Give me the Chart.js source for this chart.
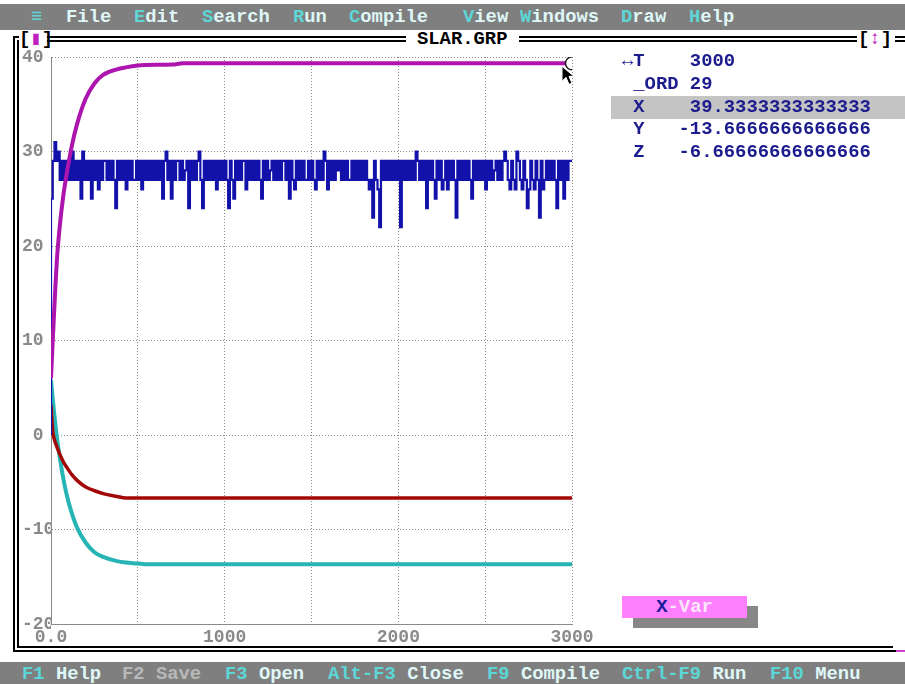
<!DOCTYPE html>
<html>
<head>
<meta charset="utf-8">
<title>SLAR.GRP</title>
<script src="https://cdn.jsdelivr.net/npm/chart.js@4.4.1/dist/chart.umd.min.js"></script>
<style>
  html, body { margin: 0; padding: 0; background: #fff; }
  #screen { position: relative; width: 905px; height: 684px; overflow: hidden; background: #fff;
            font-family: "Liberation Mono", "DejaVu Sans Mono", monospace; font-weight: bold; }
  .txt { position: absolute; white-space: pre; font-size: 18.85px; line-height: 22px; }
  .bar { position: absolute; left: 0; width: 905px; background: #7f7f7f; }
  .hk { color: #5cd6d6; }
  .mn { color: #dff7f7; }
  .off { color: #b9b9b9; }
  .hl { position: absolute; background: #000; }
  .gap { position: absolute; background: #fff; }
  #chartBox { position: absolute; left: 22px; top: 40px; width: 600px; height: 610px; }
  #panel { position: absolute; left: 622px; top: 50px; white-space: pre; font-size: 18.85px;
           line-height: 22.8px; color: #1c1c8e; }
  #sel { position: absolute; left: 611px; top: 96px; width: 294px; height: 23px; background: #c4c4c4; }
  #btnShadow { position: absolute; left: 633px; top: 606px; width: 125px; height: 22px; background: #878787; }
  #btn { position: absolute; left: 622px; top: 596px; width: 125px; height: 22px; background: #ff80ff;
         text-align: center; font-size: 18.85px; line-height: 22px; white-space: pre; }
</style>
</head>
<body>
<div id="screen">
  <!-- menu bar -->
  <div class="bar" style="top:4px;height:26px;"></div>
  <div class="txt" style="left:31px;top:6px;"><span class="hk">≡</span></div>
  <div class="txt" style="left:66px;top:6px;"><span class="mn">File</span></div>
  <div class="txt" style="left:134px;top:6px;"><span class="hk">E</span><span class="mn">dit</span></div>
  <div class="txt" style="left:202px;top:6px;"><span class="hk">S</span><span class="mn">earch</span></div>
  <div class="txt" style="left:293px;top:6px;"><span class="hk">R</span><span class="mn">un</span></div>
  <div class="txt" style="left:349px;top:6px;"><span class="hk">C</span><span class="mn">ompile</span></div>
  <div class="txt" style="left:463px;top:6px;"><span class="hk">V</span><span class="mn">iew</span></div>
  <div class="txt" style="left:520px;top:6px;"><span class="hk">W</span><span class="mn">indows</span></div>
  <div class="txt" style="left:621px;top:6px;"><span class="hk">D</span><span class="mn">raw</span></div>
  <div class="txt" style="left:689px;top:6px;"><span class="hk">H</span><span class="mn">elp</span></div>

  <!-- window frame (double lines) -->
  <div class="hl" style="left:13px;top:36px;width:892px;height:2px;"></div>
  <div class="hl" style="left:17px;top:40px;width:888px;height:2px;"></div>
  <div class="hl" style="left:13px;top:36px;width:2px;height:616px;"></div>
  <div class="hl" style="left:17px;top:40px;width:2px;height:608px;"></div>
  <div class="hl" style="left:17px;top:646px;width:876px;height:2px;"></div>
  <div class="hl" style="left:13px;top:650px;width:883px;height:2px;"></div>
  <div style="position:absolute;left:896px;top:650px;width:9px;height:2px;background:#d040d0;"></div>

  <div class="gap" style="left:19px;top:30px;width:28px;height:20px;"></div>
  <div class="txt" style="left:19px;top:28px;color:#000;">[<span style="color:#c020c0;">▮</span>]</div>
  <div class="gap" style="left:406px;top:30px;width:113px;height:20px;"></div>
  <div class="txt" style="left:417px;top:28px;color:#000;">SLAR.GRP</div>
  <div class="gap" style="left:857px;top:30px;width:38px;height:20px;"></div>
  <div class="txt" style="left:858px;top:28px;color:#000;">[<span style="color:#c020c0;">↕</span>]</div>

  <!-- chart -->
  <div id="chartBox"><canvas id="graph" width="600" height="610"></canvas></div>

  <!-- variable list -->
  <div id="sel"></div>
  <div id="panel">↔T    3000
 _ORD 29
 X    39.3333333333333
 Y   -13.6666666666666
 Z   -6.66666666666666</div>

  <!-- button -->
  <div id="btnShadow"></div>
  <div id="btn"><span style="color:#1a1a9a;">X</span><span style="color:#fbe6fb;">-Var</span></div>

  <!-- status bar -->
  <div class="bar" style="top:662px;height:22px;"></div>
  <div class="txt" style="left:22px;top:663px;"><span class="hk">F1</span><span class="mn"> Help</span></div>
  <div class="txt" style="left:122px;top:663px;"><span class="off">F2 Save</span></div>
  <div class="txt" style="left:225px;top:663px;"><span class="hk">F3</span><span class="mn"> Open</span></div>
  <div class="txt" style="left:328px;top:663px;"><span class="hk">Alt-F3</span><span class="mn"> Close</span></div>
  <div class="txt" style="left:487px;top:663px;"><span class="hk">F9</span><span class="mn"> Compile</span></div>
  <div class="txt" style="left:622px;top:663px;"><span class="hk">Ctrl-F9</span><span class="mn"> Run</span></div>
  <div class="txt" style="left:770px;top:663px;"><span class="hk">F10</span><span class="mn"> Menu</span></div>
</div>

<script>
// Time samples for the smooth state variables X, Y, Z
const curveT = [0, 10, 20, 35, 50, 70, 90, 120, 150, 200, 250, 300, 380, 430, 500, 540, 700, 760, 1000, 1500, 2000, 2500, 3000];
const xValues = [6.0, 10.0, 13.8, 18.8, 22.0, 25.2, 27.6, 30.6, 32.9, 35.6, 37.2, 38.1, 38.7, 38.9, 39.1, 39.15, 39.2, 39.33, 39.33, 39.33, 39.33, 39.33, 39.33];
const yValues = [5.8, 3.8, 2.0, -0.4, -2.3, -4.5, -6.3, -8.3, -9.8, -11.4, -12.4, -12.9, -13.35, -13.5, -13.6, -13.67, -13.67, -13.67, -13.67, -13.67, -13.67, -13.67, -13.67];
const zValues = [3.2, 0.4, -0.5, -1.3, -2.0, -2.8, -3.4, -4.2, -4.8, -5.5, -5.9, -6.2, -6.5, -6.67, -6.67, -6.67, -6.67, -6.67, -6.67, -6.67, -6.67, -6.67, -6.67];

// _ORD, recorded every ordStep time units from T = 0 to T = 3000
const ordStep = 10;
const ordValues = [
  0, 25, 29, 31, 29, 30, 27, 29, 27, 29, 27, 29, 27, 30, 27, 29, 27, 29, 25, 30,
  27, 29, 27, 29, 25, 29, 27, 29, 26, 29, 27, 29, 29, 27, 29, 27, 29, 27, 24, 29,
  27, 29, 27, 29, 26, 29, 27, 29, 27, 27, 29, 27, 29, 26, 29, 27, 29, 27, 29, 27,
  29, 27, 29, 27, 29, 25, 29, 30, 27, 29, 25, 29, 27, 29, 29, 27, 29, 27, 28, 29,
  24, 29, 27, 29, 27, 29, 30, 27, 24, 29, 27, 29, 27, 29, 27, 29, 26, 29, 27, 29,
  27, 29, 27, 24, 29, 27, 25, 29, 27, 29, 27, 29, 29, 26, 29, 27, 29, 27, 29, 27,
  29, 27, 25, 29, 27, 29, 27, 28, 29, 27, 29, 27, 29, 27, 29, 29, 27, 29, 25, 29,
  27, 26, 29, 27, 29, 27, 29, 27, 27, 29, 27, 29, 27, 26, 29, 27, 29, 27, 30, 29,
  26, 29, 27, 29, 27, 29, 28, 29, 27, 29, 27, 29, 27, 27, 29, 27, 29, 27, 29, 27,
  29, 27, 29, 27, 26, 27, 23, 29, 27, 26, 22, 29, 27, 29, 27, 29, 27, 29, 27, 29,
  27, 29, 22, 29, 27, 29, 27, 29, 27, 29, 27, 30, 29, 27, 29, 27, 29, 24, 29, 27,
  29, 27, 25, 29, 27, 29, 26, 27, 29, 26, 29, 27, 29, 27, 23, 29, 27, 29, 27, 29,
  27, 29, 27, 25, 29, 27, 29, 27, 29, 27, 29, 26, 29, 27, 29, 27, 28, 29, 27, 29,
  27, 29, 30, 29, 27, 26, 29, 27, 26, 30, 29, 27, 26, 29, 27, 24, 26, 29, 27, 26,
  29, 27, 23, 29, 26, 27, 29, 27, 29, 27, 29, 27, 24, 29, 27, 29, 25, 29, 27, 29,
  29
];

// Axis ticks
const xTickValues = [0, 1000, 2000, 3000];
const xTickText = ['0.0', '1000', '2000', '3000'];
const yTickValues = [-20, -10, 0, 10, 20, 30, 40];

const pairs = (ts, vs) => ts.map((t, i) => ({ x: t, y: vs[i] }));
const ordData = ordValues.map((v, i) => ({ x: i * ordStep, y: v }));

const axisGrey = '#8a8a8a';
const tickFont = { family: '"Liberation Mono", "DejaVu Sans Mono", monospace', size: 18, weight: 'bold' };

// mouse pointer resting on the end of the X trace
const pointerMark = {
  id: 'pointerMark',
  afterDatasetsDraw(chart) {
    const meta = chart.getDatasetMeta(0);
    const end = meta.data[meta.data.length - 1];
    const ctx = chart.ctx;
    const x = end.x - 10, y = end.y + 3;
    ctx.save();
    ctx.beginPath();
    ctx.moveTo(x, y);
    ctx.lineTo(x, y + 15);
    ctx.lineTo(x + 4, y + 11);
    ctx.lineTo(x + 7, y + 18);
    ctx.lineTo(x + 10, y + 17);
    ctx.lineTo(x + 7, y + 10);
    ctx.lineTo(x + 12, y + 10);
    ctx.closePath();
    ctx.fillStyle = '#000';
    ctx.strokeStyle = '#fff';
    ctx.lineWidth = 1;
    ctx.fill();
    ctx.stroke();
    ctx.restore();
  }
};

const lastIdx = curveT.length - 1;

new Chart(document.getElementById('graph'), {
  type: 'line',
  data: {
    datasets: [
      {
        label: 'X', data: pairs(curveT, xValues), borderColor: '#ae14ae', borderWidth: 4,
        cubicInterpolationMode: 'monotone', order: 0,
        pointRadius: c => (c.dataIndex === lastIdx ? 6.5 : 0),
        pointBackgroundColor: '#ffffff', pointBorderColor: '#222', pointBorderWidth: 1.5
      },
      {
        label: '_ORD', data: ordData, borderColor: '#1212aa', borderWidth: 2.2,
        stepped: 'after', pointRadius: 0, order: 1
      },
      {
        label: 'Z', data: pairs(curveT, zValues), borderColor: '#a20808', borderWidth: 3.5,
        cubicInterpolationMode: 'monotone', pointRadius: 0, order: 2
      },
      {
        label: 'Y', data: pairs(curveT, yValues), borderColor: '#26b4b4', borderWidth: 4,
        cubicInterpolationMode: 'monotone', pointRadius: 0, order: 3
      }
    ]
  },
  options: {
    responsive: false,
    animation: false,
    events: [],
    layout: { padding: { left: 0, top: 17, right: 50, bottom: 0 } },
    plugins: { legend: { display: false }, tooltip: { enabled: false } },
    scales: {
      x: {
        type: 'linear', min: 0, max: 3000,
        afterFit: s => { s.height = 26; },
        grid: { color: axisGrey, lineWidth: 1, drawTicks: false },
        border: { display: true, color: axisGrey, width: 1, dash: [1, 2] },
        ticks: {
          stepSize: 500, autoSkip: false, maxRotation: 0, padding: 3,
          color: axisGrey, font: tickFont,
          callback: v => { const k = xTickValues.indexOf(v); return k >= 0 ? xTickText[k] : ''; }
        }
      },
      y: {
        type: 'linear', min: -20, max: 40,
        afterFit: s => { s.width = 29; },
        grid: { color: axisGrey, lineWidth: 1, drawTicks: false },
        border: { display: true, color: axisGrey, width: 1, dash: [1, 2] },
        ticks: {
          stepSize: 10, crossAlign: 'far', color: axisGrey, font: tickFont,
          callback: v => (yTickValues.includes(v) ? String(v).padStart(2, ' ') : '')
        }
      }
    }
  },
  plugins: [pointerMark]
});
</script>
</body>
</html>
